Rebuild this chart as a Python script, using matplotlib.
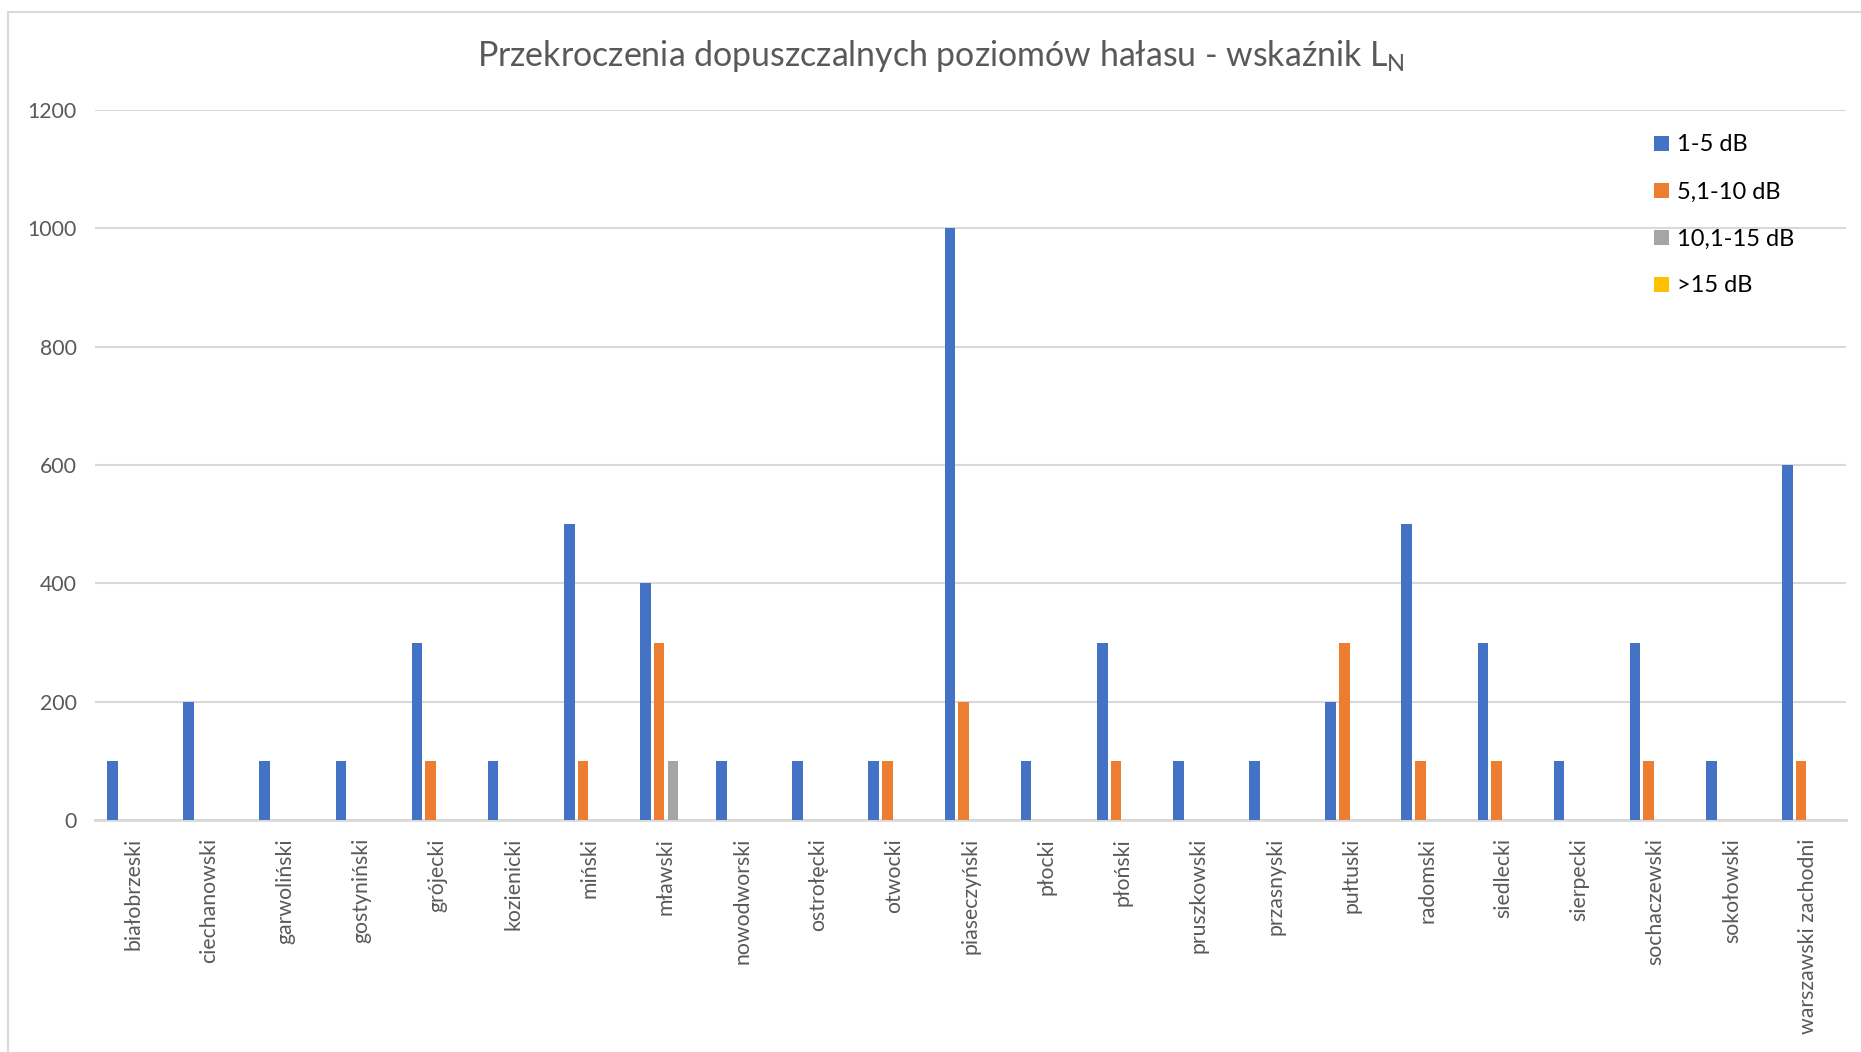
import matplotlib.pyplot as plt
import numpy as np
from matplotlib.patches import Rectangle

plt.rcParams['font.family'] = ['Lato', 'DejaVu Sans']

powiaty = ['białobrzeski', 'ciechanowski', 'garwoliński', 'gostyniński', 'grójecki',
           'kozienicki', 'miński', 'mławski', 'nowodworski', 'ostrołęcki', 'otwocki',
           'piaseczyński', 'płocki', 'płoński', 'pruszkowski', 'przasnyski', 'pułtuski',
           'radomski', 'siedlecki', 'sierpecki', 'sochaczewski', 'sokołowski',
           'warszawski zachodni']

db_1_5 = [100, 200, 100, 100, 300, 100, 500, 400, 100, 100, 100, 1000, 100, 300,
          100, 100, 200, 500, 300, 100, 300, 100, 600]
db_5_10 = [0, 0, 0, 0, 100, 0, 100, 300, 0, 0, 100, 200, 0, 100,
           0, 0, 300, 100, 100, 0, 100, 0, 100]
db_10_15 = [0, 0, 0, 0, 0, 0, 0, 100, 0, 0, 0, 0, 0, 0,
            0, 0, 0, 0, 0, 0, 0, 0, 0]
db_15 = [0] * 23

series = [db_1_5, db_5_10, db_10_15, db_15]
labels = ['1-5 dB', '5,1-10 dB', '10,1-15 dB', '>15 dB']
colors = ['#4472C4', '#ED7D31', '#A5A5A5', '#FFC000']

W, H = 1861, 1052
fig = plt.figure(figsize=(W / 100, H / 100), dpi=100)
fig.patches.append(Rectangle((8 / W, -0.1), 1.2, 1 - 12 / H + 0.1, transform=fig.transFigure,
                             fill=False, edgecolor='#d9d9d9', linewidth=1.5))

ax = fig.add_axes([95 / W, 1 - 820 / H, (1846 - 95) / W, (820 - 110) / H])

x = np.arange(len(powiaty))
step = 0.18
bw = 0.14
for i, (vals, lab, col) in enumerate(zip(series, labels, colors)):
    ax.bar(x + (i - 1.5) * step, vals, width=bw, color=col, label=lab, zorder=3)

ax.set_xlim(-0.5, len(powiaty) - 0.5)
ax.set_ylim(0, 1200)
ax.set_yticks(range(0, 1201, 200))
ax.grid(axis='y', color='#d9d9d9', linewidth=1.5, zorder=0)
for s in ['top', 'right', 'left']:
    ax.spines[s].set_visible(False)
ax.spines['bottom'].set_color('#d9d9d9')
ax.spines['bottom'].set_linewidth(2)
ax.set_xticks(x)
ax.set_xticklabels(powiaty, rotation=90, fontsize=15.3, color='#595959', va='top')
ax.tick_params(axis='y', length=0, labelcolor='#595959', labelsize=15.3, pad=13)
ax.tick_params(axis='x', length=0, pad=13)

fig.text(941 / W, 1 - 56 / H, 'Przekroczenia dopuszczalnych poziomów hałasu - wskaźnik L$_\\mathregular{N}$',
         ha='center', va='center', fontsize=24.4, color='#595959')

leg = ax.legend(loc='upper left', bbox_to_anchor=((1645 - 95) / (1846 - 95), 1.0 - 15 / 710),
                frameon=False, fontsize=17, handlelength=0.6, handleheight=0.6,
                handletextpad=0.35, labelspacing=1.1, borderaxespad=0)

fig.savefig('out.png', dpi=100)
